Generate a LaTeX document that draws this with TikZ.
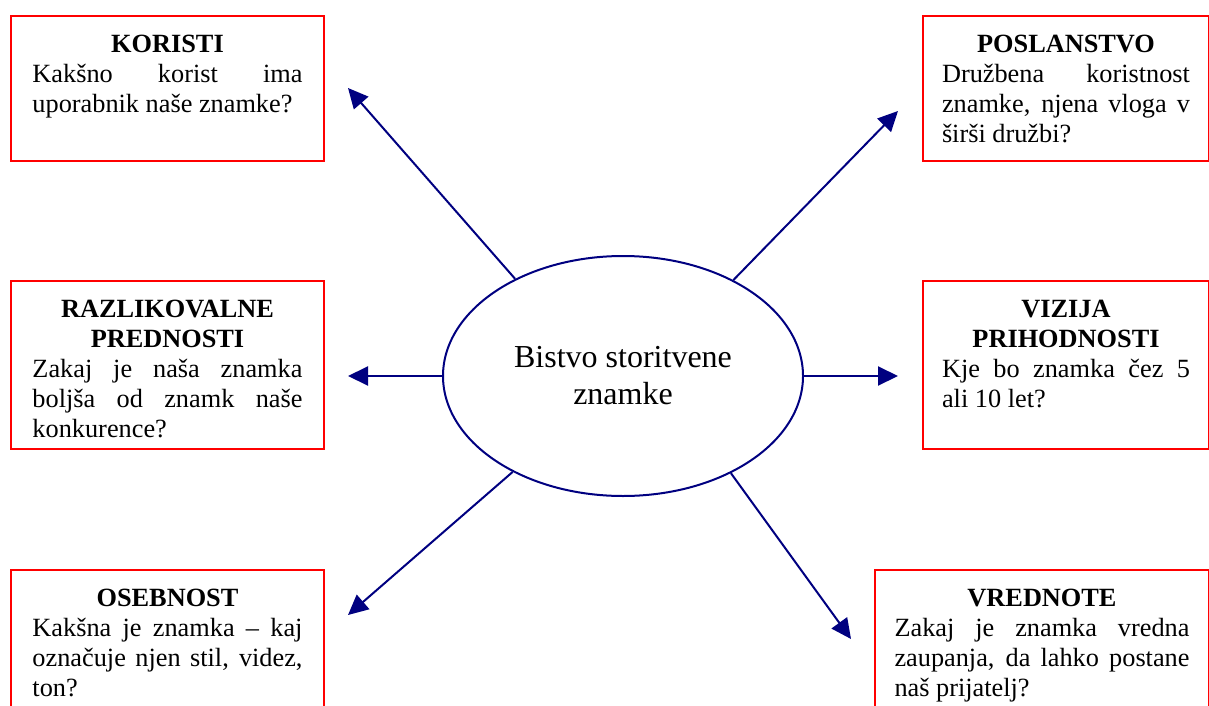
\documentclass[tikz,border=0pt]{standalone}
\usepackage{fontspec}
\setmainfont{Liberation Serif}
\usetikzlibrary{arrows.meta,shapes.geometric}
\definecolor{navy}{RGB}{0,0,128}
\newcommand{\cardhead}[1]{{\centering\bfseries #1\par}}
\newcommand{\cardtext}[3]{\parbox[t][#1][t]{#2}{\fontsize{13.15}{15}\selectfont
  \hbadness=10000 \hyphenpenalty=10000 #3}}
\begin{document}
\begin{tikzpicture}[x=0.5pt,y=-0.5pt,
  card/.style={draw=red,line width=1pt,inner xsep=10.75pt,inner ysep=9.5pt,anchor=north west},
  link/.style={navy,line width=1pt,-{Triangle[length=10pt,width=9.5pt]}}]
\useasboundingbox (0,0) rectangle (1209,706);
\clip (0,0) rectangle (1209,706);
% centre
\node[ellipse,draw=navy,line width=1pt,minimum width=180pt,minimum height=120pt,
  inner sep=0pt,align=center,font=\fontsize{16}{18.5}\selectfont] (core) at (623,376)
  {Bistvo storitvene\\znamke};
% left column
\node[card] (koristi) at (10,15) {\cardtext{53.5pt}{135pt}{\cardhead{KORISTI}%
  Kakšno korist ima\linebreak uporabnik naše znamke?}};
\node[card] (razlike) at (10,280) {\cardtext{65pt}{135pt}{\cardhead{RAZLIKOVALNE\\PREDNOSTI}%
  Zakaj je naša znamka\linebreak boljša od znamk naše\linebreak konkurence?}};
\node[card] (osebnost) at (10,569) {\cardtext{70pt}{135pt}{\cardhead{OSEBNOST}%
  Kakšna je znamka – kaj\linebreak označuje njen stil, videz,\linebreak ton?}};
% right column
\node[card,inner xsep=9.5pt] (poslanstvo) at (922,15) {\cardtext{53.5pt}{124pt}{\cardhead{POSLANSTVO}%
  Družbena koristnost\linebreak znamke, njena vloga v\linebreak širši družbi?}};
\node[card,inner xsep=9.5pt] (vizija) at (922,280) {\cardtext{65pt}{124pt}{\cardhead{VIZIJA\\PRIHODNOSTI}%
  Kje bo znamka čez 5\linebreak ali 10 let?}};
\node[card,inner xsep=9.75pt] (vrednote) at (874,569) {\cardtext{70pt}{147.5pt}{\cardhead{VREDNOTE}%
  Zakaj je znamka vredna\linebreak zaupanja, da lahko postane\linebreak naš prijatelj?}};
% arrow tips
\coordinate (korTip) at (348,88);
\coordinate (posTip) at (898,111);
\coordinate (razTip) at (348,376);
\coordinate (vizTip) at (898,376);
\coordinate (oseTip) at (348,615);
\coordinate (vreTip) at (851,639);
\draw[link] (core.138.6) -- (korTip);
\draw[link] (core.41.7) -- (posTip);
\draw[link] (core.west) -- (razTip);
\draw[link] (core.east) -- (vizTip);
\draw[link] (core.221.6) -- (oseTip);
\draw[link] (core.318.6) -- (vreTip);
\end{tikzpicture}
\end{document}
